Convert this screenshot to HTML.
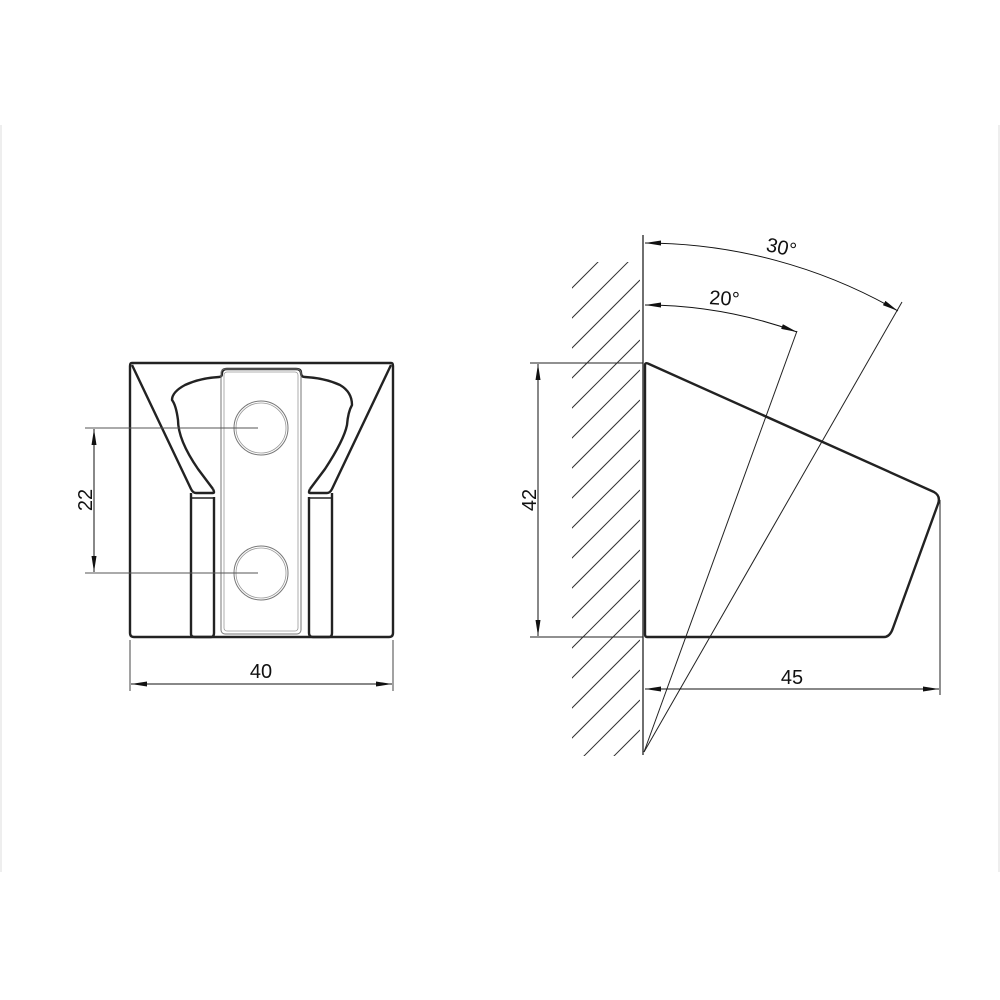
<!DOCTYPE html>
<html><head><meta charset="utf-8"><style>html,body{margin:0;padding:0;background:#fff}svg{display:block}</style></head>
<body>
<svg width="1000" height="1000" viewBox="0 0 1000 1000" xmlns="http://www.w3.org/2000/svg" font-family="Liberation Sans, sans-serif">
<defs>
<marker id="a" viewBox="0 0 10 4" refX="10" refY="2" markerWidth="10" markerHeight="4" orient="auto-start-reverse" markerUnits="userSpaceOnUse"><path d="M0,0L10,2L0,4z" fill="#111"/></marker>
<marker id="b" viewBox="0 0 16 5" refX="16" refY="2.5" markerWidth="16" markerHeight="5" orient="auto-start-reverse" markerUnits="userSpaceOnUse"><path d="M0,0L16,2.5L0,5z" fill="#111"/></marker>
<clipPath id="hc"><rect x="572" y="262" width="68" height="494"/></clipPath>
</defs>
<line x1="1" y1="125" x2="1" y2="872" stroke="#ddd"/>
<line x1="999" y1="125" x2="999" y2="872" stroke="#ddd"/>

<!-- LEFT VIEW -->
<g fill="none" stroke="#222" stroke-width="2.4" stroke-linejoin="round">
<path d="M132,363 H391 Q393,363 393,366 V633 Q393,637 389,637 H134 Q130,637 130,633 V366 Q130,363 132,363 Z"/>
<path d="M132,365 L191,489 Q193,493 196,493 H213 Q215,493 213,489"/>
<path d="M391,365 L332,489 Q330,493 327,493 H310 Q308,493 310,489"/>
<path d="M191,493 V634 Q191,637 195,637 H211 Q214,637 214,633 V497"/>
<path d="M309,497 V633 Q309,637 313,637 H329 Q332,637 332,633 V493"/>
<path d="M213,489 L198,469 Q178,440 178,420 Q176,405 172,400 Q172,392 185,385 Q200,378 219,377 Q222,377 222,373 Q222,369 227,369 H296 Q301,369 301,373 Q301,377 305,377 Q325,378 340,385 Q352,392 352,405 Q348,412 347,425 Q344,440 325,469 L310,489"/>
</g>
<line x1="191" y1="498" x2="214" y2="498" stroke="#222" stroke-width="1.5"/>
<line x1="309" y1="498" x2="332" y2="498" stroke="#222" stroke-width="1.5"/>
<rect x="221" y="369" width="80" height="265" rx="4" fill="none" stroke="#777" stroke-width="1"/>
<rect x="224" y="372" width="74" height="259" rx="3" fill="none" stroke="#999" stroke-width="0.8"/>
<circle cx="261" cy="428" r="27" fill="none" stroke="#777" stroke-width="1"/>
<circle cx="261" cy="428" r="25" fill="none" stroke="#999" stroke-width="0.8"/>
<circle cx="261" cy="573" r="27" fill="none" stroke="#777" stroke-width="1"/>
<circle cx="261" cy="573" r="25" fill="none" stroke="#999" stroke-width="0.8"/>
<g stroke="#555" stroke-width="1.1">
<line x1="85" y1="428" x2="258" y2="428"/>
<line x1="85" y1="573" x2="258" y2="573"/>
<line x1="130" y1="640" x2="130" y2="691"/>
<line x1="393" y1="640" x2="393" y2="691"/>
</g>
<line x1="94" y1="429" x2="94" y2="572" stroke="#111" stroke-width="1" marker-start="url(#b)" marker-end="url(#b)"/>
<line x1="131" y1="684" x2="392" y2="684" stroke="#111" stroke-width="1" marker-start="url(#b)" marker-end="url(#b)"/>
<text x="261" y="678" font-size="20" text-anchor="middle" fill="#111">40</text>
<text transform="translate(92,500) rotate(-90)" font-size="20" text-anchor="middle" fill="#111">22</text>

<!-- RIGHT VIEW -->
<g clip-path="url(#hc)" stroke="#333" stroke-width="1">
<path d="M540,290 L640,190 M540,320 L640,220 M540,350 L640,250 M540,380 L640,280 M540,410 L640,310 M540,440 L640,340 M540,470 L640,370 M540,500 L640,400 M540,530 L640,430 M540,560 L640,460 M540,590 L640,490 M540,620 L640,520 M540,650 L640,550 M540,680 L640,580 M540,710 L640,610 M540,740 L640,640 M540,770 L640,670 M540,800 L640,700 M540,830 L640,730 M540,860 L640,760"/>
</g>
<line x1="643" y1="235" x2="643" y2="755" stroke="#222" stroke-width="1.3"/>
<path d="M645,365 Q645,362 649,364 L934,492 Q941,496 938,504 L893,628 Q890,637 884,637 H647 Q645,637 645,634 Z" fill="none" stroke="#222" stroke-width="2.4" stroke-linejoin="round"/>
<g stroke="#222" stroke-width="1">
<line x1="644" y1="752" x2="797" y2="331"/>
<line x1="644" y1="752" x2="902" y2="302"/>
<line x1="530" y1="363" x2="643" y2="363"/>
<line x1="530" y1="637" x2="643" y2="637"/>
<line x1="940" y1="500" x2="940" y2="695"/>
</g>
<path d="M645,305 A447,447 0 0 1 797,332" fill="none" stroke="#111" stroke-width="1" marker-start="url(#b)" marker-end="url(#b)"/>
<path d="M645,243 A509,509 0 0 1 898,311" fill="none" stroke="#111" stroke-width="1" marker-start="url(#b)" marker-end="url(#b)"/>
<line x1="538" y1="364" x2="538" y2="636" stroke="#111" stroke-width="1" marker-start="url(#b)" marker-end="url(#b)"/>
<line x1="645" y1="689" x2="939" y2="689" stroke="#111" stroke-width="1" marker-start="url(#b)" marker-end="url(#b)"/>
<text x="792" y="684" font-size="20" text-anchor="middle" fill="#111">45</text>
<text transform="translate(536,500) rotate(-90)" font-size="20" text-anchor="middle" fill="#111">42</text>
<text transform="translate(724,305) rotate(4)" font-size="20" text-anchor="middle" fill="#111">20°</text>
<text transform="translate(780,254) rotate(12)" font-size="20" text-anchor="middle" fill="#111">30°</text>
</svg>
</body></html>
